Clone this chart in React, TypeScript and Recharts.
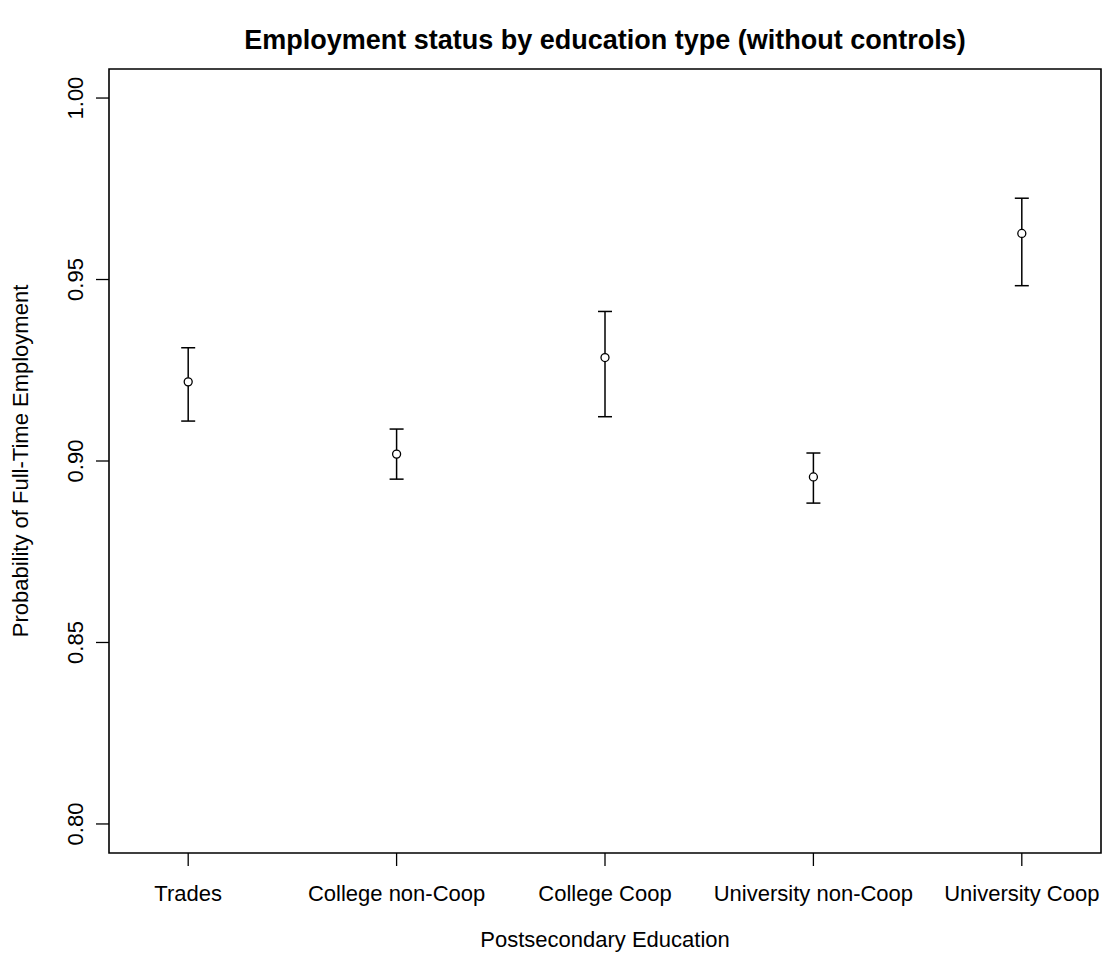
import React from 'react';
import {
  ComposedChart,
  Scatter,
  ErrorBar,
  XAxis,
  YAxis,
  ReferenceArea
} from 'recharts';

const categories = ['Trades', 'College non-Coop', 'College Coop', 'University non-Coop', 'University Coop'];
const estimate = [0.9218, 0.9019, 0.9285, 0.8956, 0.9627];
const lower = [0.9110, 0.8950, 0.9122, 0.8884, 0.9483];
const upper = [0.9312, 0.9088, 0.9412, 0.9022, 0.9724];
const yTicks = [0.8, 0.85, 0.9, 0.95, 1.0];
const xTicks = [1, 2, 3, 4, 5];

const X_DOMAIN: [number, number] = [0.62, 5.38];
const Y_DOMAIN: [number, number] = [0.792, 1.008];
const FONT = '"Liberation Sans", Arial, Helvetica, sans-serif';

const data = categories.map((name, i) => ({
  x: i + 1,
  name,
  y: estimate[i],
  err: [estimate[i] - lower[i], upper[i] - estimate[i]]
}));

const XTick = ({ x, y, payload }: any) => (
  <text x={x} y={y + 35} textAnchor="middle" fontSize={22} fontFamily={FONT} fill="#000">
    {categories[payload.value - 1]}
  </text>
);

const YTick = ({ x, y, payload }: any) => {
  const bx = x - 13;
  return (
    <text
      x={bx}
      y={y}
      transform={`rotate(-90, ${bx}, ${y})`}
      textAnchor="middle"
      fontSize={22}
      fontFamily={FONT}
      fill="#000"
    >
      {Number(payload.value).toFixed(2)}
    </text>
  );
};

const OpenCircle = ({ cx, cy }: any) => (
  <circle cx={cx} cy={cy} r={4} fill="#fff" stroke="#000" strokeWidth={1.3} />
);

export default function App() {
  return (
    <div style={{ position: 'relative', width: 1109, height: 966, background: '#fff' }}>
      <style>{'body{margin:0}'}</style>
      <ComposedChart width={1109} height={966} margin={{ top: 69, right: 8, bottom: 0, left: 0 }} data={data}>
        <XAxis
          type="number"
          dataKey="x"
          domain={X_DOMAIN}
          ticks={xTicks}
          allowDataOverflow
          height={113}
          tickSize={13}
          tickMargin={0}
          axisLine={false}
          tickLine={{ stroke: '#000', strokeWidth: 1.3 }}
          tick={<XTick />}
          interval={0}
          label={{
            content: ({ viewBox }: any) => (
              <text
                x={viewBox.x + viewBox.width / 2}
                y={viewBox.y + viewBox.height - 19}
                textAnchor="middle"
                fontSize={22}
                fontFamily={FONT}
                fill="#000"
              >
                Postsecondary Education
              </text>
            )
          }}
        />
        <YAxis
          type="number"
          domain={Y_DOMAIN}
          ticks={yTicks}
          allowDataOverflow
          width={109}
          tickSize={13}
          tickMargin={0}
          axisLine={false}
          tickLine={{ stroke: '#000', strokeWidth: 1.3 }}
          tick={<YTick />}
          interval={0}
          label={{
            content: ({ viewBox }: any) => {
              const cy = viewBox.y + viewBox.height / 2;
              return (
                <text
                  x={28}
                  y={cy}
                  transform={`rotate(-90, 28, ${cy})`}
                  textAnchor="middle"
                  fontSize={22}
                  fontFamily={FONT}
                  fill="#000"
                >
                  Probability of Full-Time Employment
                </text>
              );
            }
          }}
        />
        <ReferenceArea
          x1={X_DOMAIN[0]}
          x2={X_DOMAIN[1]}
          y1={Y_DOMAIN[0]}
          y2={Y_DOMAIN[1]}
          fill="none"
          fillOpacity={0}
          stroke="#000"
          strokeWidth={1.6}
          ifOverflow="visible"
        />
        <Scatter dataKey="y" shape={<OpenCircle />} isAnimationActive={false}>
          <ErrorBar dataKey="err" direction="y" width={7} stroke="#000" strokeWidth={1.5} />
        </Scatter>
      </ComposedChart>
      <svg width={1109} height={80} style={{ position: 'absolute', left: 0, top: 0, pointerEvents: 'none' }}>
        <text x={605} y={49} textAnchor="middle" fontSize={27} fontWeight="bold" fontFamily={FONT} fill="#000">
          Employment status by education type (without controls)
        </text>
      </svg>
    </div>
  );
}
